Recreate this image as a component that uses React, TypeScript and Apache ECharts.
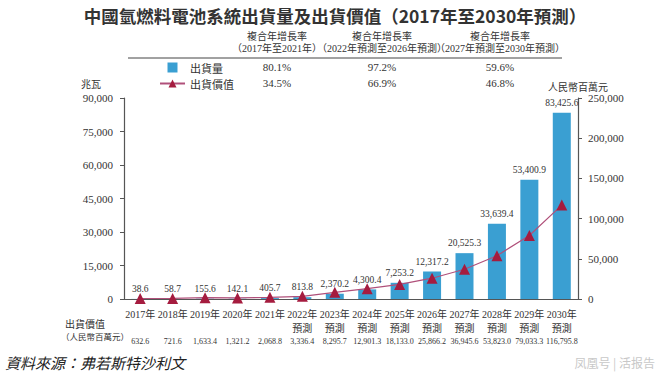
import React, { useEffect, useRef } from 'react';
import * as echarts from 'echarts';

const SERIF = '"Liberation Serif", "Noto Sans CJK TC", serif';
const CJK = '"Noto Sans CJK TC", "Liberation Serif", serif';

const categories = [
  '2017年', '2018年', '2019年', '2020年', '2021年',
  '2022年\n預測', '2023年\n預測', '2024年\n預測', '2025年\n預測', '2026年\n預測',
  '2027年\n預測', '2028年\n預測', '2029年\n預測', '2030年\n預測',
];
const shipments = [38.6, 58.7, 155.6, 142.1, 405.7, 813.8, 2370.2, 4300.4, 7253.2, 12317.2, 20525.3, 33639.4, 53400.9, 83425.6];
const shipmentValues = [632.6, 721.6, 1633.4, 1321.2, 2068.8, 3336.4, 8295.7, 12901.3, 18133.0, 25866.2, 36945.6, 53823.0, 79033.3, 116795.8];

const cagrHeaders = ['（2017年至2021年）', '（2022年預測至2026年預測）', '（2027年預測至2030年預測）'];
const cagrShipments = ['80.1%', '97.2%', '59.6%'];
const cagrValues = ['34.5%', '66.9%', '46.8%'];

const leftAxis = { min: 0, max: 90000, interval: 15000 };
const rightAxis = { min: 0, max: 250000, interval: 50000 };

const fmt1 = (v: number) => v.toLocaleString('en-US', { minimumFractionDigits: 1, maximumFractionDigits: 1 });
const fmt0 = (v: number) => v.toLocaleString('en-US', { maximumFractionDigits: 0 });

const colX = [277, 382, 500];

function txt(text: string, x: number, y: number, font: string, align = 'center', fill = '#333') {
  return { type: 'text', x, y, z: 10, style: { text, fill, font, align, verticalAlign: 'middle' } };
}

export default function App() {
  const ref = useRef<HTMLDivElement>(null);
  useEffect(() => {
    if (!ref.current) return;
    const chart = echarts.init(ref.current, null, { renderer: 'svg' });
    const graphics: any[] = [
      txt('中國氫燃料電池系統出貨量及出貨價值（2017年至2030年預測）', 335, 15, `bold 17.5px ${CJK}`),
      { type: 'line', shape: { x1: 128, y1: 58, x2: 562, y2: 58 }, style: { stroke: '#444', lineWidth: 1 } },
      txt('兆瓦', 91, 83, `10px ${CJK}`),
      txt('人民幣百萬元', 578, 86, `10px ${CJK}`),
      txt('出貨價值', 85, 323, `10px ${CJK}`),
      txt('（人民幣百萬元）', 95, 336, `8.5px ${CJK}`),
      txt('資料來源：弗若斯特沙利文', 5, 362, `italic 15px ${CJK}`, 'left', '#222'),
      txt('凤凰号 | 活报告', 655, 362, `12px ${CJK}`, 'right', '#c8c8c8'),
    ];
    colX.forEach((x, i) => {
      graphics.push(txt('複合年增長率', x, 35, `10px ${CJK}`));
      graphics.push(txt(cagrHeaders[i], x, 48, `10px ${SERIF}`));
      graphics.push(txt(cagrShipments[i], x, 67, `11px ${SERIF}`));
      graphics.push(txt(cagrValues[i], x, 83, `11px ${SERIF}`));
    });

    chart.setOption({
      animation: false,
      grid: { left: 124, right: 82, top: 98, bottom: 77 },
      legend: {
        orient: 'vertical',
        left: 154,
        top: 56,
        itemWidth: 25,
        itemHeight: 10,
        itemGap: 3,
        textStyle: { fontFamily: CJK, fontSize: 11, lineHeight: 13, color: '#333' },
        data: [
          { name: '出貨量', icon: 'path://M0,0H10V10H0Z' },
          { name: '出貨價值' },
        ],
      },
      xAxis: [
        {
          type: 'category',
          data: categories,
          axisLine: { lineStyle: { color: '#555', width: 1.2 } },
          axisTick: { show: false },
          axisLabel: { interval: 0, fontFamily: SERIF, fontSize: 10, color: '#333', margin: 8, lineHeight: 14 },
        },
        {
          type: 'category',
          position: 'bottom',
          offset: 38,
          data: shipmentValues.map(fmt1),
          axisLine: { show: false },
          axisTick: { show: false },
          axisLabel: { interval: 0, fontFamily: SERIF, fontSize: 8, color: '#333', margin: 0 },
        },
      ],
      yAxis: [
        {
          type: 'value',
          ...leftAxis,
          axisLine: { show: true, lineStyle: { color: '#555', width: 1.2 } },
          axisTick: { show: true, length: 4, lineStyle: { color: '#555' } },
          splitLine: { show: false },
          axisLabel: { fontFamily: SERIF, fontSize: 11, color: '#333', margin: 11, formatter: (v: number) => fmt0(v) },
        },
        {
          type: 'value',
          position: 'right',
          ...rightAxis,
          axisLine: { show: true, lineStyle: { color: '#555', width: 1.2 } },
          axisTick: { show: true, length: 4, lineStyle: { color: '#555' } },
          splitLine: { show: false },
          axisLabel: { fontFamily: SERIF, fontSize: 11, color: '#333', margin: 10, formatter: (v: number) => fmt0(v) },
        },
      ],
      series: [
        {
          name: '出貨量',
          type: 'bar',
          yAxisIndex: 0,
          data: shipments,
          barWidth: 18,
          itemStyle: { color: '#3a9fd2' },
          label: {
            show: true,
            position: 'top',
            distance: 5,
            fontFamily: SERIF,
            fontSize: 9.5,
            color: '#333',
            formatter: (p: any) => fmt1(p.value),
          },
        },
        {
          name: '出貨價值',
          type: 'line',
          yAxisIndex: 1,
          data: shipmentValues,
          symbol: 'triangle',
          symbolSize: 11,
          z: 5,
          itemStyle: { color: '#a51c3f' },
          lineStyle: { color: '#b0507a', width: 1.2 },
        },
      ],
      graphic: graphics,
    });
    return () => chart.dispose();
  }, []);
  return (
    <div
      ref={ref}
      style={{ position: 'absolute', left: 0, top: 0, width: 660, height: 376, background: '#fff' }}
    />
  );
}
